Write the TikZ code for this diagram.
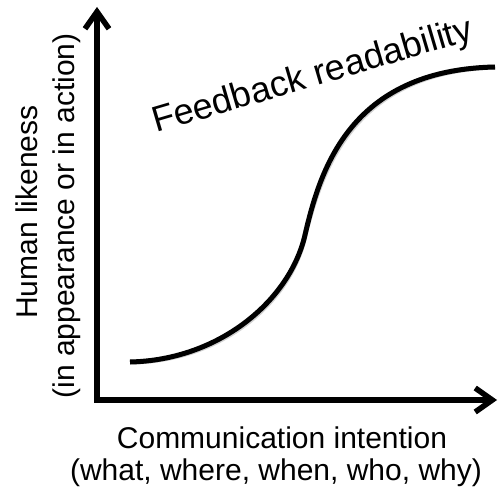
\documentclass[tikz,border=0pt]{standalone}
\usepackage{fontspec}
\setmainfont{Liberation Sans}
\usetikzlibrary{arrows.meta}
\begin{document}
\begin{tikzpicture}[x=1pt,y=-1pt,
  axis/.style={line width=5.5pt, line join=miter,
    {Straight Barb[length=17pt,width=24pt]}-{Straight Barb[length=17pt,width=24pt]}},
  curveline/.style={line width=5pt},
  shadowline/.style={draw=black!18, shift={(1.5,1.5)}},
  axlabel/.style={font=\fontsize{30}{36}\selectfont, inner sep=0pt},
  biglabel/.style={font=\fontsize{36}{40}\selectfont, inner sep=0pt}]
\useasboundingbox (0,0) rectangle (502,492);
\coordinate (ytip) at (97,7);
\coordinate (origin) at (97,400);
\coordinate (xtip) at (497,400);
\coordinate (cstart) at (130,362);
\coordinate (cmid) at (305,235);
\coordinate (cend) at (495,67);
\begin{scope}[shift={(1.5,1.5)}]
\draw[axis, draw=black!18] (ytip) -- (origin) -- (xtip);
\draw[curveline, draw=black!18] (cstart) .. controls (220,360) and (290,300) .. (cmid)
  .. controls (320,170) and (350,70) .. (cend);
\end{scope}
\draw[axis] (ytip) -- (origin) -- (xtip);
\draw[curveline] (cstart) .. controls (220,360) and (290,300) .. (cmid)
  .. controls (320,170) and (350,70) .. (cend);
\node[biglabel, anchor=base west, rotate=16.4] (fb) at (156,133) {Feedback readability};
\node[axlabel, anchor=base, rotate=90] (yl1) at (37,212) {Human likeness};
\node[axlabel, anchor=base, rotate=90] (yl2) at (74,216) {(in appearance or in action)};
\node[axlabel, anchor=base] (xl1) at (282,448) {Communication intention};
\node[axlabel, anchor=base] (xl2) at (276,480) {(what, where, when, who, why)};
\end{tikzpicture}
\end{document}
